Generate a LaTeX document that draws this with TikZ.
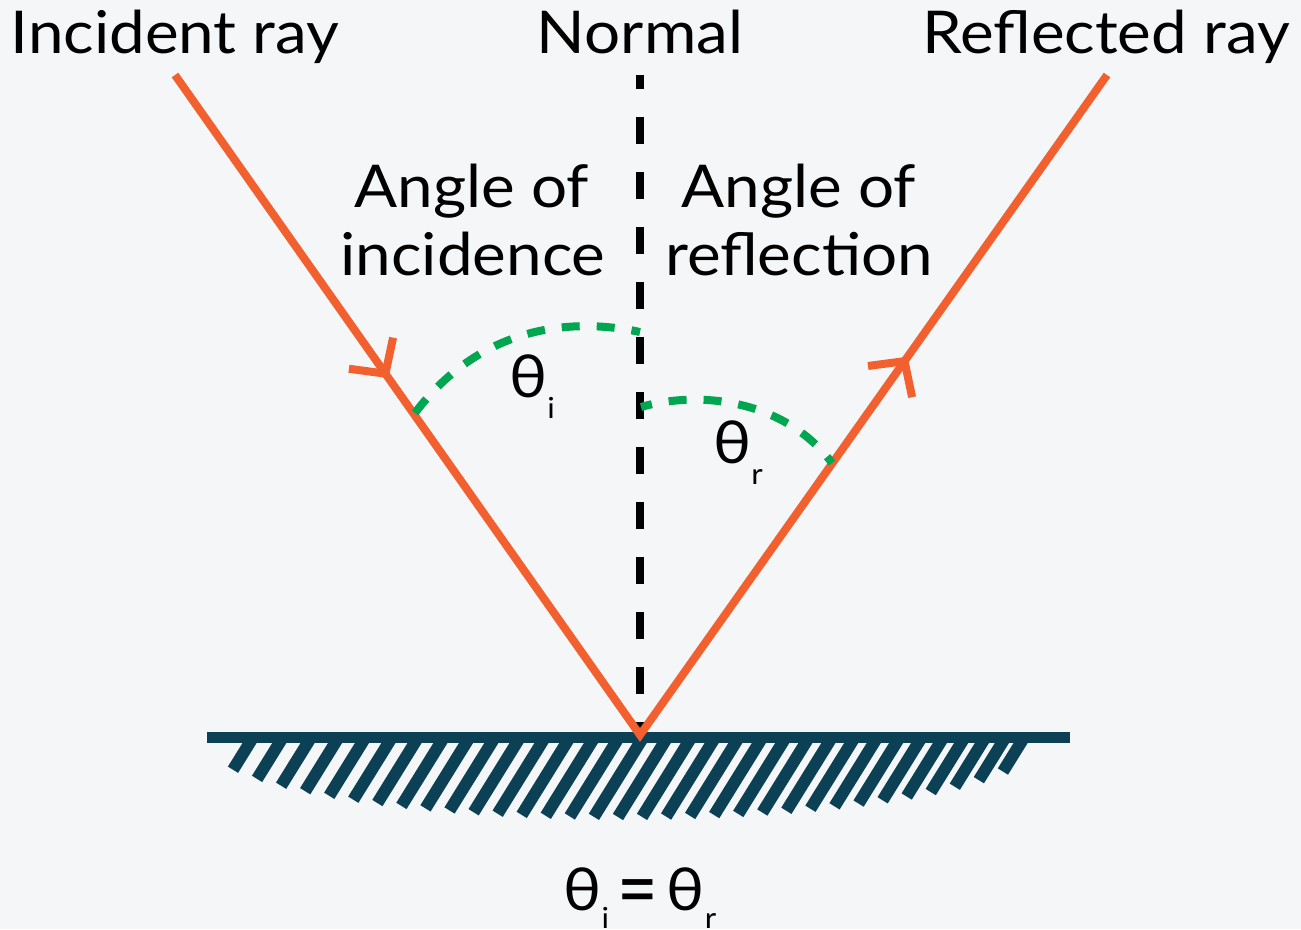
\documentclass[tikz,border=0pt]{standalone}
\usepackage{fontspec}
\setmainfont[FakeStretch=1.08]{Lato}
\usepackage{graphicx}
\usetikzlibrary{arrows.meta,decorations.markings}
\definecolor{bgc}{HTML}{F5F6F8}
\definecolor{rayc}{HTML}{F26030}
\definecolor{arcc}{HTML}{00A650}
\definecolor{surfc}{HTML}{0B4055}
\newcommand\lowsub[2][-21pt]{\raisebox{#1}{\fontsize{29}{29}\selectfont #2}}
\begin{document}
\begin{tikzpicture}[x=1pt,y=-1pt,
  lbl/.style={font=\fontsize{59}{66}\selectfont, inner sep=0pt, anchor=base, text=black},
  normalline/.style={draw=black, line width=8pt, line cap=butt, dash pattern=on 27pt off 28pt, dash phase=13pt},
  rayline/.style={draw=rayc, line width=8pt, line join=miter, miter limit=4,
    postaction={decorate},
    decoration={markings,
      mark=at position 0.2295 with {\arrow{Straight Barb[length=25pt,width=54pt]}},
      mark=at position 0.7865 with {\arrow{Straight Barb[length=25pt,width=54pt]}}}},
  anglearc/.style={draw=arcc, line width=8pt, line cap=butt, dash pattern=on 18pt off 17pt},
  surface/.style={draw=surfc, line width=11pt, line cap=butt},
  hatch/.style={draw=surfc, line width=12pt, line cap=butt}]
\fill[bgc] (0,0) rectangle (1301,929);
\useasboundingbox (0,0) rectangle (1301,929);

% coordinates
\coordinate (src) at (175,75);
\coordinate (hit) at (640,735);
\coordinate (dst) at (1107,75);
\coordinate (ntop) at (640,75);
\coordinate (sl) at (207,737.5);
\coordinate (sr) at (1070,737.5);

% surface hatching
\foreach \k in {0,...,32}{
  \pgfmathsetmacro\xb{233+\k*24.06}
  \pgfmathsetmacro\uu{(\xb-620)/415}
  \pgfmathsetmacro\yb{743+74*sqrt(1-\uu*\uu)}
  \pgfmathsetmacro\xt{\xb+0.62*(\yb-738)}
  \draw[hatch] (\xt,738) -- (\xb,\yb);
}
\draw[surface] (sl) -- (sr);

% normal
\draw[normalline] (ntop) -- (hit);

% rays
\draw[rayline] (src) -- (hit) -- (dst);

% angle arcs
\coordinate (ai0) at (415,413);
\coordinate (ai1) at (640,332);
\draw[anglearc] (ai0) .. controls (475,333) and (560,315) .. (ai1);
\coordinate (ar0) at (641,407);
\coordinate (ar1) at (832,463);
\draw[anglearc, dash phase=10pt] (ar1) .. controls (785,400) and (700,390) .. (ar0);

% labels
\node[lbl] (tinc) at (175,53) {Incident ray};
\node[lbl] (tnor) at (640,53) {Normal};
\node[lbl] (tref) at (1106,53) {Reflected ray};
\node[lbl] (tai1) at (472,207) {Angle of};
\node[lbl] (tai2) at (473,275) {incidence};
\node[lbl] (tar1) at (799,207) {Angle of};
\node[lbl] (tar2) at (799,275) {reflection};
\node[lbl] (thi) at (532,397) {θ\lowsub{i}};
\node[lbl] (thr) at (738,463) {θ\lowsub{r}};
\node[lbl] (eq) at (640,910) {θ\lowsub[-18pt]{i}\hspace{8pt}\raisebox{-8pt}{\scalebox{1.1}[1.45]{=}}\hspace{9pt}θ\lowsub[-18pt]{r}};
\end{tikzpicture}
\end{document}
